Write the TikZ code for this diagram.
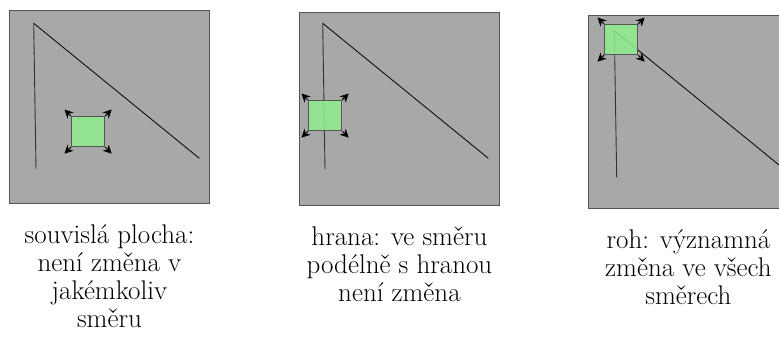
\documentclass[tikz,border=0pt]{standalone}
\usepackage{fontspec}
\usetikzlibrary{arrows.meta}
\definecolor{panelgray}{RGB}{168,168,168}
\definecolor{edgegray}{RGB}{85,85,85}
\definecolor{wingreen}{RGB}{144,238,144}
\tikzset{
  panel/.style={draw=edgegray, line width=0.9pt, fill=panelgray, rectangle, inner sep=0pt,
    minimum width=200pt, minimum height=193pt, anchor=north west},
  window/.style={draw=edgegray, line width=1.2pt, fill=wingreen, fill opacity=0.85, rectangle, inner sep=0pt,
    minimum width=33pt, minimum height=30pt, anchor=north west},
  caption/.style={align=center, anchor=north, inner sep=0pt,
    font=\fontsize{27}{28}\selectfont},
  vline/.style={draw=black!80, line width=0.9pt},
  dline/.style={draw=black, line width=0.8pt},
  corner/.style={-{Stealth[length=8.5pt,width=8.5pt,inset=2.5pt]}, draw=black, line width=1pt},
}
\begin{document}
\begin{tikzpicture}[x=1pt,y=-1pt]
\useasboundingbox (0,0) rectangle (779,342);
\begin{scope}
\clip (0,0) rectangle (779,342);
% panels
\node[panel] (p1) at (9,10) {};
\node[panel] (p2) at (299,12) {};
\node[panel] (p3) at (588,15) {};
% panel 1 lines
\coordinate (a1) at (33.7,23.3);
\coordinate (b1) at (36,169);
\coordinate (c1) at (199.3,158.3);
\draw[vline] (a1) -- (b1);
\draw[dline] (a1) -- (c1);
% panel 2 lines
\coordinate (a2) at (322.7,23.3);
\coordinate (b2) at (325,169.3);
\coordinate (c2) at (488.3,158.3);
\draw[vline] (a2) -- (b2);
\draw[dline] (a2) -- (c2);
% panel 3 lines
\coordinate (a3) at (614.3,30.7);
\coordinate (b3) at (616.7,177.3);
\coordinate (c3) at (780,165.8);
\draw[vline] (a3) -- (b3);
\draw[dline] (a3) -- (c3);
% windows
\node[window] (w1) at (71,116) {};
\node[window] (w2) at (308,100) {};
\node[window] (w3) at (604,24) {};
\foreach \w in {w1,w2,w3}{
  \draw[corner] (\w.north west) -- ([shift={(-6.5,-6.5)}]\w.north west);
  \draw[corner] (\w.north east) -- ([shift={(6.5,-6.5)}]\w.north east);
  \draw[corner] (\w.south west) -- ([shift={(-6.5,6.5)}]\w.south west);
  \draw[corner] (\w.south east) -- ([shift={(6.5,6.5)}]\w.south east);
}
\end{scope}
% captions
\node[caption] (t1) at ([yshift=-21pt]p1.south) {souvislá plocha:\\není změna v\\jakémkoliv\\směru};
\node[caption] (t2) at ([yshift=-21pt]p2.south) {hrana: ve směru\\podélně s hranou\\není změna};
\node[caption] (t3) at ([yshift=-21pt]p3.south) {roh: významná\\změna ve všech\\směrech};
\end{tikzpicture}
\end{document}
